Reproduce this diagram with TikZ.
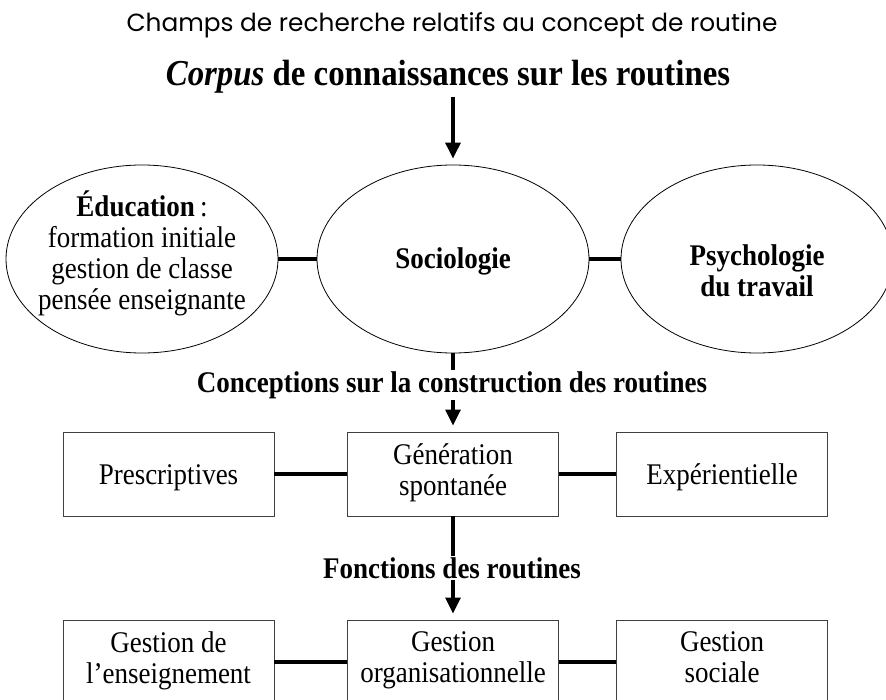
\documentclass[tikz,border=0pt]{standalone}
\usepackage{fontspec}
\setmainfont{Liberation Serif}[FakeStretch=0.9]
\newfontfamily\titlefont{Poppins}
\usetikzlibrary{shapes.geometric,arrows.meta}

\begin{document}
\begin{tikzpicture}[x=1pt, y=-1pt,
  font=\fontsize{30}{31}\selectfont,
  field/.style={draw, ellipse, line width=0.8pt, minimum width=272pt, minimum height=188pt, inner sep=0pt},
  kind/.style={draw=black!75, line width=0.9pt, minimum width=211pt, minimum height=84pt, align=center, inner sep=0pt,
    execute at begin node={\rule{0pt}{31pt}}, execute at end node=\strut},
  heading/.style={font=\fontsize{30}{31}\selectfont\bfseries, inner sep=1pt},
  link/.style={line width=3.2pt},
  feed/.style={link, -{Triangle[width=15pt,length=16pt]}, shorten >=6pt}]

\useasboundingbox (0,0) rectangle (886,700);

% titles
\node[font=\titlefont\fontsize{24.8}{28}\selectfont] (title) at (452,25) {Champs de recherche relatifs au concept de routine};
\node[font=\fontsize{36.5}{40}\selectfont\bfseries, inner sep=3pt] (corpus) at (448,77) {\textit{Corpus} de connaissances sur les routines};

% research fields
\node[field] (edu) at (142,259) {};
\node[field] (socio) at (453,259) {};
\node[field] (psy) at (757,259) {};
\node[align=center] (edutxt) at (142,253) {\textbf{Éducation}\,:\\formation initiale\\gestion de classe\\pensée enseignante};
\node[font=\fontsize{30}{31}\selectfont\bfseries] (sociotxt) at (453,261) {Sociologie};
\node[font=\fontsize{30}{31}\selectfont\bfseries, align=center] (psytxt) at (757,271) {Psychologie\\du travail};

\draw[link] (edu.east) -- (socio.west);
\draw[link] (socio.east) -- (psy.west);
\draw[feed] (corpus.south -| socio.north) -- (socio.north);

% conceptions
\node[heading] (concep) at (452,385) {Conceptions sur la construction des routines};
\node[kind] (presc) at (168.5,474) {Prescriptives};
\node[kind] (gener) at (453,474) {Génération\\spontanée};
\node[kind] (exper) at (722,474) {Expérientielle};

\draw[link] (socio.south) -- (concep.north -| socio.south);
\draw[feed] (concep.south -| gener.north) -- (gener.north);
\draw[link] (presc) -- (gener);
\draw[link] (gener) -- (exper);

% functions
\node[heading] (fonct) at (452,568) {Fonctions des routines};
\node[kind] (ens) at (168.5,662) {Gestion de\\l’enseignement};
\node[kind] (org) at (453,662) {Gestion\\organisationnelle};
\node[kind] (soc) at (722,662) {Gestion\\sociale};

\draw[link] (gener.south) -- (fonct.north -| gener.south);
\draw[feed] (fonct.south -| org.north) -- (org.north);
\draw[link] (ens) -- (org);
\draw[link] (org) -- (soc);
\end{tikzpicture}
\end{document}
